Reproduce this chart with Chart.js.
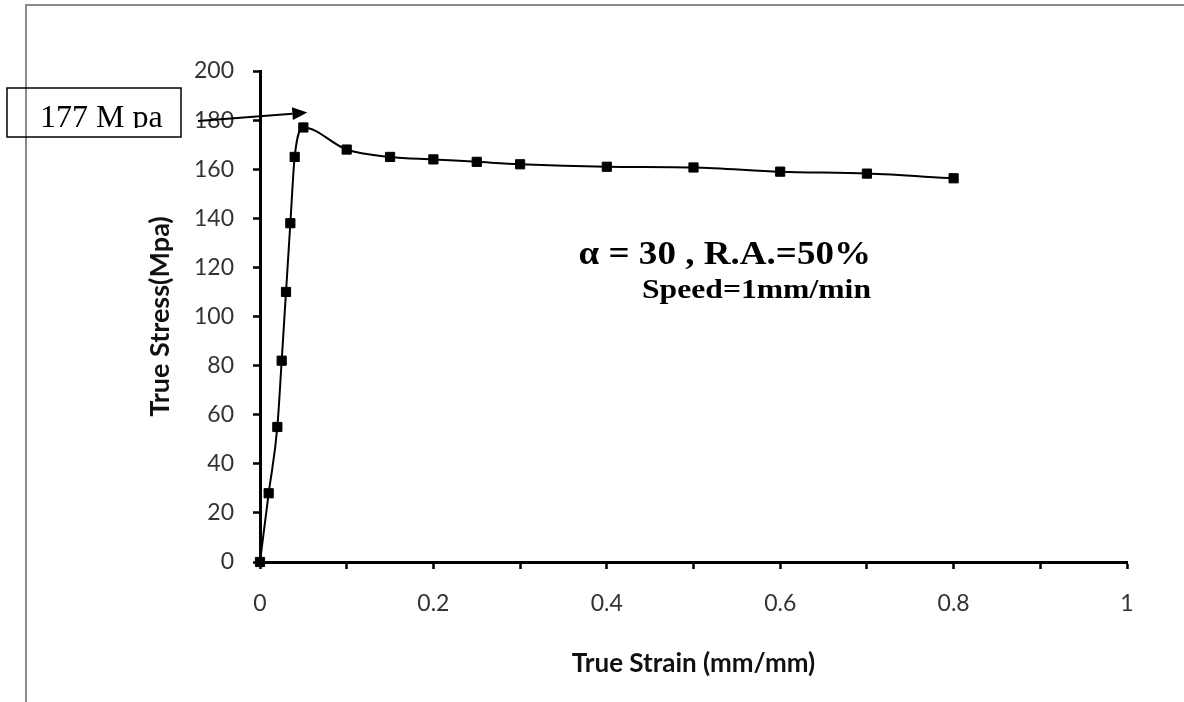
<!DOCTYPE html>
<html>
<head>
<meta charset="utf-8">
<script src="https://cdn.jsdelivr.net/npm/chart.js@4.4.1/dist/chart.umd.min.js"></script>
<style>
  html, body { margin: 0; padding: 0; background: #ffffff; }
  #wrap { width: 1184px; height: 702px; position: relative; }
</style>
</head>
<body>
<div id="wrap"><canvas id="c" width="1184" height="702"></canvas></div>
<script>
// True stress / true strain test record
const strain = [0, 0.01, 0.02, 0.025, 0.03, 0.035, 0.04, 0.05, 0.1, 0.15, 0.2, 0.25, 0.3, 0.4, 0.5, 0.6, 0.7, 0.8];
const stress = [0, 28, 55, 82, 110, 138, 165, 177, 168, 165, 164, 163, 162, 161, 160.7, 159, 158.2, 156.3];

const xTicks = [0, 0.2, 0.4, 0.6, 0.8, 1];
const yTicks = [0, 20, 40, 60, 80, 100, 120, 140, 160, 180, 200];

const peakLabel = '177 M pa';
const noteLine1 = 'α = 30 , R.A.=50%';
const noteLine2 = 'Speed=1mm/min';

const points = strain.map((s, i) => ({ x: s, y: stress[i] }));
const peakIndex = stress.indexOf(Math.max(...stress));

// right-aligned text, widened horizontally by a factor
function wideText(ctx, text, rightX, baseY, font, stretch) {
  ctx.save();
  ctx.font = font;
  ctx.textAlign = 'left';
  ctx.textBaseline = 'alphabetic';
  const w = ctx.measureText(text).width * stretch;
  ctx.translate(rightX - w, baseY);
  ctx.scale(stretch, 1);
  ctx.fillText(text, 0, 0);
  ctx.restore();
}

const decorations = {
  id: 'decorations',
  beforeDraw(chart) {
    const ctx = chart.ctx;
    ctx.save();
    ctx.fillStyle = '#ffffff';
    ctx.fillRect(0, 0, chart.width, chart.height);
    // outer frame
    ctx.strokeStyle = '#8a8a8a';
    ctx.lineWidth = 2;
    ctx.beginPath();
    ctx.moveTo(26, chart.height + 5);
    ctx.lineTo(26, 5);
    ctx.lineTo(chart.width + 5, 5);
    ctx.stroke();
    ctx.restore();
  },
  afterDraw(chart) {
    const ctx = chart.ctx;
    const xs = chart.scales.x, ys = chart.scales.y;
    ctx.save();

    // peak call-out box
    ctx.strokeStyle = '#000';
    ctx.lineWidth = 1.5;
    ctx.strokeRect(7, 88, 174, 49);
    ctx.save();
    ctx.beginPath();
    ctx.rect(7, 88, 174, 40);
    ctx.clip();
    ctx.fillStyle = '#000';
    ctx.font = '32px "Liberation Serif", "Times New Roman", serif';
    ctx.textAlign = 'left';
    ctx.textBaseline = 'alphabetic';
    ctx.fillText(peakLabel, 40, 127);
    ctx.restore();

    // arrow toward the peak
    const px = xs.getPixelForValue(strain[peakIndex]);
    const py = ys.getPixelForValue(stress[peakIndex]);
    const tipX = px + 4, tipY = py - 15;
    const sx = 198, sy = 121;
    const ang = Math.atan2(tipY - sy, tipX - sx);
    const headLen = 15, headW = 6.5;
    const bx = tipX - headLen * Math.cos(ang), by = tipY - headLen * Math.sin(ang);
    ctx.strokeStyle = '#000';
    ctx.lineWidth = 2;
    ctx.beginPath();
    ctx.moveTo(sx, sy);
    ctx.lineTo(bx, by);
    ctx.stroke();
    ctx.fillStyle = '#000';
    ctx.beginPath();
    ctx.moveTo(tipX, tipY);
    ctx.lineTo(bx + headW * Math.sin(ang), by - headW * Math.cos(ang));
    ctx.lineTo(bx - headW * Math.sin(ang), by + headW * Math.cos(ang));
    ctx.closePath();
    ctx.fill();

    // test condition notes
    ctx.fillStyle = '#000';
    wideText(ctx, noteLine1, 871, 264, 'bold 34px "Liberation Serif", "Times New Roman", serif', 1.09);
    wideText(ctx, noteLine2, 871, 298, 'bold 28px "Liberation Serif", "Times New Roman", serif', 1.13);
    ctx.restore();
  }
};

new Chart(document.getElementById('c'), {
  type: 'scatter',
  data: {
    datasets: [{
      data: points,
      showLine: true,
      borderColor: '#000',
      borderWidth: 2,
      backgroundColor: '#000',
      pointStyle: 'rect',
      pointRadius: 6.5,
      pointBorderWidth: 1,
      pointBorderColor: '#000',
      pointBackgroundColor: '#000',
      cubicInterpolationMode: 'monotone',
      clip: false
    }]
  },
  options: {
    responsive: false,
    animation: false,
    events: [],
    layout: { padding: { left: 0, top: 71, right: 57, bottom: 0 } },
    plugins: { legend: { display: false }, tooltip: { enabled: false } },
    scales: {
      x: {
        type: 'linear',
        min: 0, max: 1,
        afterFit(scale) { scale.height = 140; },
        afterBuildTicks(scale) {
          const t = [];
          for (let i = 0; i <= 10; i++) t.push({ value: i / 10 });
          scale.ticks = t;
        },
        border: { color: '#000', width: 3 },
        grid: { drawOnChartArea: false, drawTicks: true, tickLength: 7, tickWidth: 2.5, tickColor: '#000' },
        ticks: {
          padding: 21,
          color: '#333',
          font: { family: 'Lato', size: 23 },
          callback(v) {
            const hit = xTicks.find(t => Math.abs(t - v) < 1e-9);
            return hit === undefined ? '' : String(hit);
          }
        },
        title: {
          display: true,
          text: 'True Strain (mm/mm)',
          color: '#111',
          font: { family: 'Lato', size: 26, weight: 'bold' },
          padding: { top: 0, bottom: 23 }
        }
      },
      y: {
        type: 'linear',
        min: 0, max: 200,
        afterFit(scale) { scale.width = 260; },
        afterBuildTicks(scale) { scale.ticks = yTicks.map(v => ({ value: v })); },
        border: { color: '#000', width: 3 },
        grid: { drawOnChartArea: false, drawTicks: true, tickLength: 7, tickWidth: 2.5, tickColor: '#000' },
        ticks: {
          padding: 19,
          color: '#333',
          font: { family: 'Lato', size: 23 }
        },
        title: {
          display: true,
          text: 'True Stress(Mpa)',
          color: '#111',
          font: { family: 'Lato', size: 27, weight: 'bold' },
          padding: { top: 144, bottom: 0 }
        }
      }
    }
  },
  plugins: [decorations]
});
</script>
</body>
</html>
